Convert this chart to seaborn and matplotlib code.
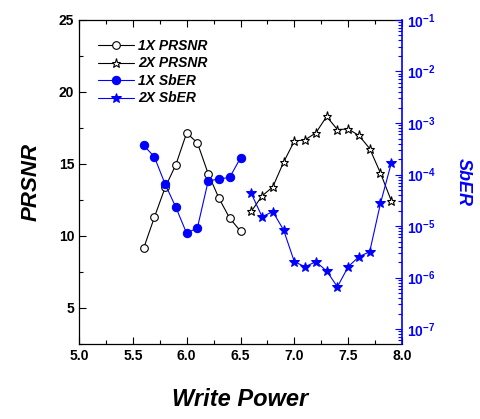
import numpy as np
import pandas as pd
import matplotlib
matplotlib.use("Agg")
import matplotlib.pyplot as plt
import seaborn as sns

# data
x_1x = [5.6, 5.7, 5.8, 5.9, 6.0, 6.1, 6.2, 6.3, 6.4, 6.5]
prsnr_1x = [9.14, 11.30, 13.37, 14.96, 17.16, 16.46, 14.32, 12.62, 11.23, 10.34]
sber_1x = [3.7e-4, 2.2e-4, 6.5e-5, 2.3e-5, 7.2e-6, 9.3e-6, 7.5e-5, 8.2e-5, 8.8e-5, 2.1e-4]

x_2x = [6.6, 6.7, 6.8, 6.9, 7.0, 7.1, 7.2, 7.3, 7.4, 7.5, 7.6, 7.7, 7.8, 7.9]
prsnr_2x = [11.71, 12.78, 13.41, 15.12, 16.59, 16.68, 17.16, 18.30, 17.39, 17.43,
            16.98, 16.07, 14.37, 12.46]
sber_2x = [4.3e-5, 1.52e-5, 1.9e-5, 8.4e-6, 2.03e-6, 1.62e-6, 2.03e-6, 1.34e-6,
           6.6e-7, 1.62e-6, 2.54e-6, 3.17e-6, 2.75e-5, 1.65e-4]

sns.set_style("ticks")
plt.rcParams['font.family'] = ['Liberation Sans', 'DejaVu Sans']
plt.rcParams['font.weight'] = 'bold'
plt.rcParams['mathtext.fontset'] = 'custom'
plt.rcParams['mathtext.rm'] = 'Liberation Sans:bold'
plt.rcParams['mathtext.bf'] = 'Liberation Sans:bold'
plt.rcParams['xtick.direction'] = 'in'
plt.rcParams['ytick.direction'] = 'in'
for k in ['text.color', 'axes.labelcolor', 'xtick.color', 'ytick.color', 'axes.edgecolor']:
    plt.rcParams[k] = 'black'

fig = plt.figure(figsize=(4.8, 4.19), dpi=100)
ax = fig.add_axes([0.1646, 0.179, 0.6729, 0.7733])
ax2 = ax.twinx()

blue = '#0000ff'

sns.lineplot(x=x_1x, y=prsnr_1x, ax=ax, color='black', lw=0.8, marker='o', ms=5.5,
             markerfacecolor='white', markeredgecolor='black', mew=0.8, label='1X PRSNR', legend=False)
sns.lineplot(x=x_2x, y=prsnr_2x, ax=ax, color='black', lw=0.8, marker='*', ms=6.5,
             markerfacecolor='white', markeredgecolor='black', mew=0.8, label='2X PRSNR', legend=False)
sns.lineplot(x=x_1x, y=sber_1x, ax=ax2, color=blue, lw=0.8, marker='o', ms=6,
             markerfacecolor=blue, markeredgecolor=blue, label='1X SbER', legend=False)
sns.lineplot(x=x_2x, y=sber_2x, ax=ax2, color=blue, lw=0.8, marker='*', ms=7.5,
             markerfacecolor=blue, markeredgecolor=blue, label='2X SbER', legend=False)

ax.set_xlim(5.0, 8.0)
ax.set_ylim(2.9, 25)
ax.set_xticks([5.0, 5.5, 6.0, 6.5, 7.0, 7.5, 8.0])
ax.set_xticks(np.arange(5.0, 8.01, 0.25), minor=True)
ax.set_yticks([5, 10, 15, 20, 25])
ax.set_yticks(np.arange(2.5, 25.1, 2.5), minor=True)
ax.xaxis.set_major_formatter(matplotlib.ticker.FormatStrFormatter('%.1f'))
ax.tick_params(axis='both', which='major', labelsize=10, length=5, width=0.8, top=True)
ax.tick_params(axis='both', which='minor', length=3, width=0.8, top=True)
for lab in ax.get_xticklabels() + ax.get_yticklabels():
    lab.set_fontweight('bold')

ax2.set_yscale('log')
ax2.set_ylim(10 ** -7.29, 1e-1)
ax2.set_yticks([1e-7, 1e-6, 1e-5, 1e-4, 1e-3, 1e-2, 1e-1])
ax2.tick_params(axis='y', which='major', colors=blue, labelsize=10, length=5, width=0.8)
ax2.tick_params(axis='y', which='minor', colors=blue, length=3, width=0.8)
ax2.spines['right'].set_color(blue)
ax2.spines['right'].set_linewidth(1.2)
for s in ['left', 'top', 'bottom']:
    ax2.spines[s].set_visible(False)
for s in ['left', 'top', 'bottom']:
    ax.spines[s].set_linewidth(0.9)
ax.spines['right'].set_visible(False)

ax.set_xlabel('Write Power', fontsize=17, fontweight='bold', fontstyle='italic', labelpad=18)
ax.set_ylabel('PRSNR', fontsize=16, fontweight='bold', fontstyle='italic', labelpad=12)
ax2.set_ylabel('SbER', fontsize=13, fontweight='bold', fontstyle='italic', color=blue,
               rotation=270, labelpad=26)

h1, l1 = ax.get_legend_handles_labels()
h2, l2 = ax2.get_legend_handles_labels()
ax2.legend(h1 + h2, l1 + l2, loc='upper left', frameon=False,
           handlelength=2.6, handletextpad=0.3, labelspacing=0.25,
           bbox_to_anchor=(0.02, 0.98), prop={'weight': 'bold', 'style': 'italic', 'size': 10})

fig.savefig('out.png', dpi=100)
